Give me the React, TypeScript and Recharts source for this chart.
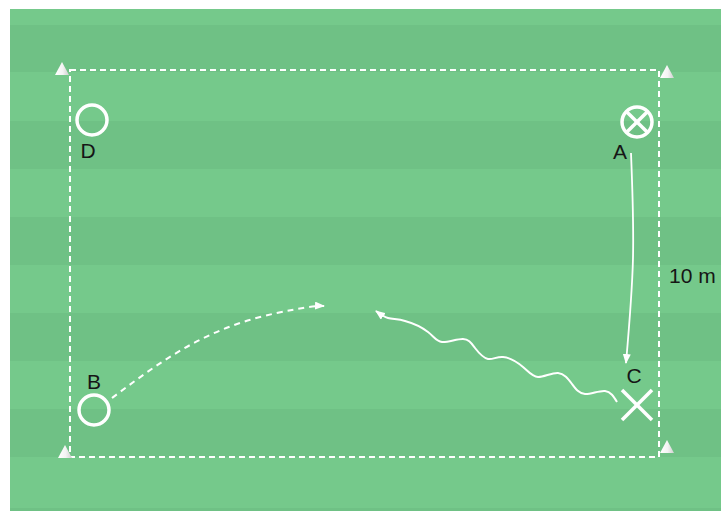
import { ComposedChart, XAxis, YAxis, Scatter, Line, ReferenceArea } from 'recharts'

const W = 721
const H = 511

// field stripes (top/bottom edges, alternating light/dark)
const STRIPE_EDGES = [9, 25, 72, 121, 169, 217, 265, 313, 361, 409, 457, 508, 511]
const FIELD_LEFT = 10
const GRID_BOX = { x1: 70, x2: 659, y1: 70, y2: 457 }

const CONES = [
  { x: 62, y: 69 },
  { x: 667, y: 72 },
  { x: 65, y: 452 },
  { x: 667, y: 447 },
]

const PLAYERS = [
  { x: 92, y: 120, kind: 'circle' },
  { x: 637, y: 122, kind: 'ball' },
  { x: 94, y: 410, kind: 'circle' },
  { x: 637, y: 405, kind: 'cross' },
]

const LABELS = [
  { x: 88, y: 158, text: 'D' },
  { x: 620, y: 159, text: 'A' },
  { x: 94, y: 389, text: 'B' },
  { x: 634, y: 383, text: 'C' },
]

const DISTANCE = [{ x: 669, y: 283, text: '10 m' }]

const RUN_A_TO_C = [
  { x: 631, y: 153 },
  { x: 633, y: 258 },
  { x: 626, y: 363 },
]

const PASS_B = [
  { x: 112, y: 398 },
  { x: 173, y: 355 },
  { x: 240, y: 323 },
  { x: 303, y: 308 },
  { x: 324, y: 306 },
]

// dribble from C back towards the middle, crests and troughs
const DRIBBLE_C = [
  { x: 617, y: 402 },
  { x: 605, y: 391 },
  { x: 585, y: 394 },
  { x: 572, y: 384 },
  { x: 558, y: 373 },
  { x: 538, y: 377 },
  { x: 523, y: 367 },
  { x: 503, y: 357 },
  { x: 488, y: 359 },
  { x: 475, y: 348 },
  { x: 463, y: 339 },
  { x: 442, y: 342 },
  { x: 428, y: 332 },
  { x: 405, y: 321 },
  { x: 388, y: 318 },
  { x: 376, y: 311 },
]

const LIGHT = '#75c98b'
const DARK = '#6fc185'
const FONT = "'Liberation Sans', Arial, sans-serif"

const Cone = ({ cx, cy }: any) => (
  <polygon
    points={`${cx},${cy - 7} ${cx + 7},${cy + 6} ${cx - 7},${cy + 6}`}
    fill='url(#coneFill)'
  />
)

const Player = ({ cx, cy, payload }: any) => {
  const r = 15
  if (payload.kind === 'cross') {
    const d = 15
    return (
      <g stroke='#fff' strokeWidth={3.5}>
        <line x1={cx - d} y1={cy - d} x2={cx + d} y2={cy + d} />
        <line x1={cx - d} y1={cy + d} x2={cx + d} y2={cy - d} />
      </g>
    )
  }
  const k = r * 0.707
  return (
    <g stroke='#fff' strokeWidth={3.5} fill='none'>
      <circle cx={cx} cy={cy} r={r} />
      {payload.kind === 'ball' && (
        <>
          <line x1={cx - k} y1={cy - k} x2={cx + k} y2={cy + k} />
          <line x1={cx - k} y1={cy + k} x2={cx + k} y2={cy - k} />
        </>
      )}
    </g>
  )
}

const Label = (anchor: string) => ({ cx, cy, payload }: any) => (
  <text x={cx} y={cy} textAnchor={anchor} fontSize={21} fill='#161616' fontFamily={FONT}>
    {payload.text}
  </text>
)

export default function App() {
  const stripes = STRIPE_EDGES.slice(0, -1).map((y1, i) => ({
    y1, y2: STRIPE_EDGES[i + 1], fill: i % 2 === 0 ? LIGHT : DARK,
  }))

  return (
    <div style={{ position: 'absolute', left: 0, top: 0, width: W, height: H, background: '#fff' }}>
      <ComposedChart width={W} height={H} margin={{ top: 0, right: 0, bottom: 0, left: 0 }}>
        <defs>
          <marker id='arrow' markerUnits='userSpaceOnUse' markerWidth={10} markerHeight={8}
            refX={9} refY={4} orient='auto'>
            <path d='M0,0 L10,4 L0,8 z' fill='#fff' />
          </marker>
          <linearGradient id='coneFill' x1='0' y1='0' x2='1' y2='0'>
            <stop offset='0%' stopColor='#ffffff' />
            <stop offset='55%' stopColor='#f4f4f4' />
            <stop offset='100%' stopColor='#cfcfcf' />
          </linearGradient>
        </defs>
        <XAxis dataKey='x' type='number' domain={[0, W]} hide allowDataOverflow />
        <YAxis dataKey='y' type='number' domain={[0, H]} reversed hide allowDataOverflow />

        {stripes.map((s, i) => (
          <ReferenceArea key={i} x1={FIELD_LEFT} x2={W} y1={s.y1} y2={s.y2}
            fill={s.fill} fillOpacity={1} stroke='none' />
        ))}
        <ReferenceArea x1={GRID_BOX.x1} x2={GRID_BOX.x2} y1={GRID_BOX.y1} y2={GRID_BOX.y2}
          fill='none' stroke='#fff' strokeWidth={2} strokeDasharray='6 4' />

        <Line data={RUN_A_TO_C} dataKey='y' type='natural' stroke='#fff' strokeWidth={1.8}
          dot={false} markerEnd='url(#arrow)' isAnimationActive={false} />
        <Line data={PASS_B} dataKey='y' type='natural' stroke='#fff' strokeWidth={2}
          strokeDasharray='6 5' dot={false} markerEnd='url(#arrow)' isAnimationActive={false} />
        <Line data={DRIBBLE_C} dataKey='y' type='natural' stroke='#fff' strokeWidth={2}
          dot={false} markerEnd='url(#arrow)' isAnimationActive={false} />

        <Scatter data={CONES} shape={Cone} isAnimationActive={false} />
        <Scatter data={PLAYERS} shape={Player} isAnimationActive={false} />
        <Scatter data={LABELS} shape={Label('middle')} isAnimationActive={false} />
        <Scatter data={DISTANCE} shape={Label('start')} isAnimationActive={false} />
      </ComposedChart>
    </div>
  )
}
